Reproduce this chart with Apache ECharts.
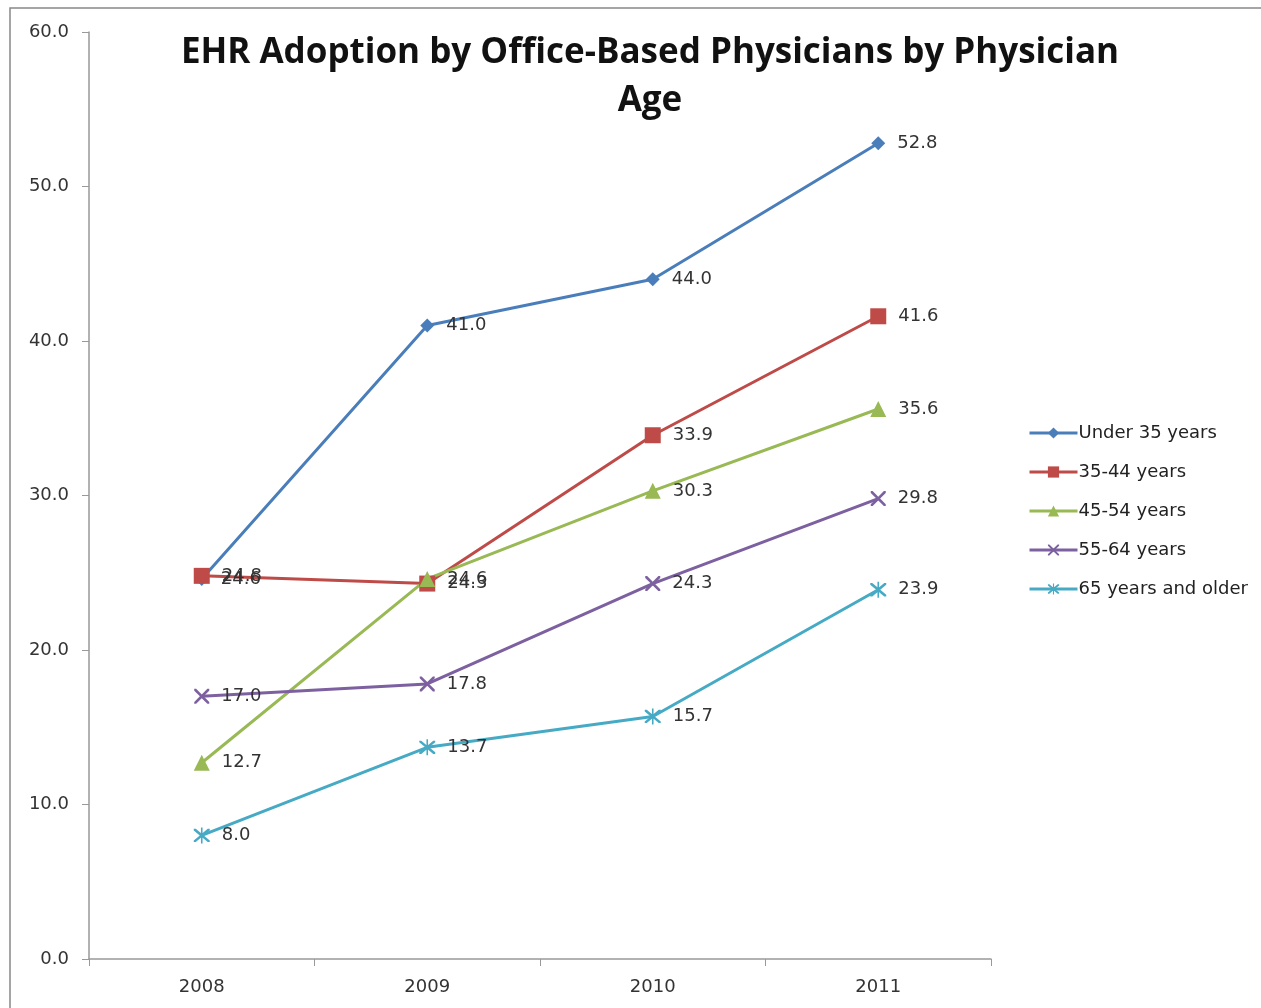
<!DOCTYPE html>
<html><head><meta charset="utf-8">
<script src="https://cdn.jsdelivr.net/npm/echarts@6/dist/echarts.min.js"></script>
<style>html,body{margin:0;padding:0;background:#fff}#c{width:1261px;height:1008px}</style>
</head><body><div id="c"></div>
<script>
const years = ['2008','2009','2010','2011'];
const seriesNames = ['Under 35 years','35-44 years','45-54 years','55-64 years','65 years and older'];
const under35 = [24.6, 41.0, 44.0, 52.8];
const age35_44 = [24.8, 24.3, 33.9, 41.6];
const age45_54 = [12.7, 24.6, 30.3, 35.6];
const age55_64 = [17.0, 17.8, 24.3, 29.8];
const age65plus = [8.0, 13.7, 15.7, 23.9];
const yTicks = [0,10,20,30,40,50,60];

const colors = ['#4A7EBB','#BE4B48','#98B954','#7D60A0','#46AAC5'];
const xSym = 'path://M0,0 L2.5,0 L10,7.5 L17.5,0 L20,0 L20,2.5 L12.5,10 L20,17.5 L20,20 L17.5,20 L10,12.5 L2.5,20 L0,20 L0,17.5 L7.5,10 L0,2.5 Z';
const starSym = xSym + ' M9,-2 L11,-2 L11,22 L9,22 Z';
const symbols = ['diamond','rect','triangle',xSym,starSym];
const sizes = [14,16,16,15,16];
const datas = [under35, age35_44, age45_54, age55_64, age65plus];
const F = 'DejaVu Sans';

const chart = echarts.init(document.getElementById('c'));
chart.setOption({
  animation:false,
  color: colors,
  title:{
    text:'EHR Adoption by Office-Based Physicians by Physician\nAge',
    left: 645, top: 24, textAlign:'center',
    textStyle:{fontFamily:'Open Sans',fontWeight:'bold',fontSize:35,lineHeight:48,color:'#111'}
  },
  graphic:[{type:'rect',shape:{x:10,y:8,width:1300,height:1100},style:{fill:'none',stroke:'#888',lineWidth:1.5},silent:true}],
  legend:{
    orient:'vertical', left:1023, top:419, itemGap:21, itemWidth:48, itemHeight:14,
    lineStyle:{width:3},
    textStyle:{fontFamily:F,fontSize:18,color:'#222',padding:[0,0,0,-4]},
    data: seriesNames
  },
  grid:{left:89,right:270,top:32,bottom:49,containLabel:false},
  xAxis:{
    type:'category', data:years, boundaryGap:true,
    axisLine:{lineStyle:{color:'#999',width:1.5}},
    axisTick:{show:true,length:7,lineStyle:{color:'#999'}},
    axisLabel:{fontFamily:F,fontSize:18,color:'#333',margin:19}
  },
  yAxis:{
    type:'value', min:0, max:60, interval:10,
    axisLine:{show:true,lineStyle:{color:'#999',width:1.5}},
    axisTick:{show:true,length:7,lineStyle:{color:'#999'}},
    splitLine:{show:false},
    axisLabel:{fontFamily:F,fontSize:18,color:'#333',margin:20,formatter:v=>v.toFixed(1)}
  },
  series: datas.map((d,i)=>({
    name: seriesNames[i], type:'line', data:d,
    symbol: symbols[i], symbolSize: sizes[i], showAllSymbol:true,
    lineStyle:{width:3, color:colors[i]},
    itemStyle:{color:colors[i]},
    label:{show:true, position:'right', distance:12, fontFamily:F, fontSize:18, color:'#333',
      formatter:p=>p.value.toFixed(1)}
  }))
});
</script></body></html>
